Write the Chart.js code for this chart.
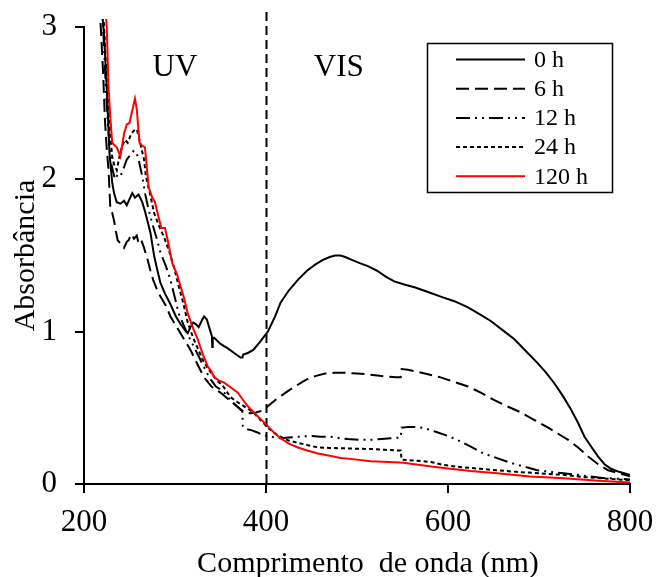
<!DOCTYPE html>
<html><head><meta charset="utf-8">
<script src="https://cdn.jsdelivr.net/npm/chart.js@4/dist/chart.umd.min.js"></script>
<style>html,body{margin:0;padding:0;background:#fff}#wrap{width:659px;height:577px}</style>
</head><body><div id="wrap"><canvas id="c" width="659" height="577"></canvas></div>
<script>
// ---- data (wavelength nm / absorbance) ----
const seriesLabels = ['0 h', '6 h', '12 h', '24 h', '120 h'];
const xTicks = [200, 400, 600, 800];
const yTicks = [0, 1, 2, 3];
const xTitle = 'Comprimento  de onda (nm)';
const yTitle = 'Absorbância';

const wl0 = [
217, 222, 225, 228, 231, 233, 236, 240, 244, 247,
250, 253, 256, 260, 264, 267, 270, 273, 277, 280,
284, 289, 295, 301, 306, 311, 314, 317, 320, 323,
326, 330, 332, 335, 338, 340.5, 341, 341.5, 343, 350,
358, 365, 372, 374, 375, 380, 386, 393, 402, 410,
416, 425, 435, 445, 454, 462, 470, 476, 482, 487,
495, 503, 512, 522, 532, 541, 552, 564, 578, 592,
607, 622, 636, 647, 660, 673, 686, 699, 708, 717,
726, 735, 743, 750, 758, 765, 772, 779, 788, 800];
const ab0 = [
3.3, 2.95, 2.6, 2.17, 1.98, 1.91, 1.85, 1.84, 1.86, 1.83,
1.87, 1.91, 1.88, 1.90, 1.85, 1.79, 1.72, 1.65, 1.50, 1.42,
1.32, 1.25, 1.18, 1.10, 1.05, 1.01, 0.99, 1.03, 1.06, 1.05,
1.03, 1.08, 1.10, 1.08, 1.02, 0.97, 0.90, 0.96, 0.96, 0.92,
0.89, 0.86, 0.83, 0.83, 0.85, 0.86, 0.88, 0.93, 1.00, 1.10,
1.19, 1.27, 1.34, 1.40, 1.44, 1.47, 1.49, 1.50, 1.50, 1.49,
1.47, 1.45, 1.43, 1.40, 1.36, 1.33, 1.31, 1.29, 1.26, 1.23,
1.20, 1.16, 1.11, 1.07, 1.01, 0.95, 0.87, 0.79, 0.73, 0.66,
0.58, 0.49, 0.40, 0.31, 0.24, 0.18, 0.13, 0.10, 0.08, 0.06];

const wl6 = [
215, 218, 221, 223, 225, 227, 229, 231, 233, 235,
237, 240, 244, 247, 249, 252, 255, 258, 260, 263,
266, 270, 273, 276, 280, 284, 290, 295, 300, 306,
312, 317, 321, 326, 332, 336, 340, 345, 350, 356,
362, 368, 372, 377, 383, 389, 395, 402, 410, 417,
424, 432, 440, 446, 455, 465, 475, 487, 500, 512,
525, 535, 543, 548, 549, 556, 564, 578, 592, 607,
622, 636, 651, 665, 680, 695, 710, 721, 732, 743,
754, 765, 776, 788, 800];
const ab6 = [
3.4, 3.05, 2.7, 2.39, 2.2, 2.06, 1.80, 1.78, 1.73, 1.66,
1.60, 1.58, 1.55, 1.59, 1.60, 1.64, 1.61, 1.63, 1.58, 1.60,
1.55, 1.47, 1.40, 1.34, 1.28, 1.23, 1.17, 1.10, 1.05, 0.99,
0.93, 0.88, 0.83, 0.77, 0.70, 0.67, 0.64, 0.62, 0.60, 0.57,
0.54, 0.51, 0.49, 0.47, 0.465, 0.47, 0.48, 0.51, 0.55, 0.58,
0.61, 0.64, 0.67, 0.69, 0.71, 0.725, 0.73, 0.73, 0.725, 0.72,
0.71, 0.705, 0.70, 0.70, 0.755, 0.75, 0.74, 0.72, 0.70, 0.67,
0.64, 0.60, 0.55, 0.51, 0.47, 0.42, 0.37, 0.33, 0.29, 0.24,
0.18, 0.13, 0.09, 0.07, 0.05];

const wl12 = [
218, 221, 224, 227, 230, 234, 237, 240, 244, 247,
251, 255, 258, 260, 264, 267, 271, 276, 280, 284,
290, 295, 300, 304, 309, 314, 320, 325, 330, 336,
340, 345, 350, 354, 361, 368, 374, 374.5, 378, 383,
390, 397, 406, 416, 425, 435, 449, 460, 471, 482,
490, 502, 515, 527, 537, 548, 549, 557, 566, 575,
588, 600, 610, 625, 639, 654, 668, 683, 698, 712,
727, 742, 756, 770, 785, 800];
const ab12 = [
3.4, 3.0, 2.6, 2.3, 2.1, 2.0, 2.03, 2.02, 2.08, 2.13,
2.16, 2.19, 2.17, 2.13, 2.02, 1.91, 1.80, 1.69, 1.61, 1.52,
1.43, 1.34, 1.22, 1.12, 1.05, 0.98, 0.91, 0.85, 0.79, 0.72,
0.68, 0.64, 0.62, 0.60, 0.55, 0.51, 0.48, 0.38, 0.36, 0.355,
0.34, 0.32, 0.31, 0.30, 0.305, 0.31, 0.315, 0.31, 0.31, 0.30,
0.295, 0.29, 0.29, 0.295, 0.30, 0.305, 0.37, 0.375, 0.375, 0.365,
0.34, 0.315, 0.29, 0.245, 0.20, 0.17, 0.14, 0.115, 0.09, 0.08,
0.07, 0.06, 0.05, 0.04, 0.035, 0.03];

const wl24 = [
219, 222, 225, 228, 231, 233, 236, 239, 242, 245,
248, 252, 255, 258, 261, 264, 266, 268, 272, 277,
282, 288, 294, 299, 304, 309, 314, 320, 325, 330,
336, 341, 346, 352, 361, 368, 376, 386, 394, 402,
409, 416, 425, 435, 446, 457, 470, 482, 496, 515,
530, 544, 548, 549, 560, 581, 595, 615, 635, 654,
675, 700, 727, 750, 775, 800];
const ab24 = [
3.4, 3.0, 2.65, 2.35, 2.15, 2.10, 2.06, 2.15, 2.22, 2.26,
2.24, 2.30, 2.32, 2.33, 2.26, 2.18, 2.13, 2.02, 1.92, 1.78,
1.70, 1.62, 1.52, 1.42, 1.30, 1.19, 1.06, 0.96, 0.89, 0.82,
0.76, 0.72, 0.68, 0.65, 0.57, 0.54, 0.51, 0.47, 0.42, 0.37,
0.335, 0.31, 0.285, 0.27, 0.255, 0.24, 0.237, 0.235, 0.232, 0.23,
0.225, 0.22, 0.22, 0.16, 0.155, 0.145, 0.125, 0.11, 0.10, 0.09,
0.08, 0.07, 0.06, 0.045, 0.035, 0.025];

const wl120 = [
219, 222, 225, 227, 229, 231, 234, 236, 240, 244,
247, 250, 253, 256, 258, 261, 264, 267, 271, 275,
278, 282, 285, 289, 292, 297, 302, 306, 310, 314,
320, 325, 330, 336, 340, 343, 348, 354, 362, 369,
375, 380, 390, 402, 410, 416, 425, 435, 445, 457,
470, 482, 500, 515, 535, 551, 575, 595, 625, 654,
690, 727, 765, 800];
const ab120 = [
3.6, 3.25, 3.0, 2.6, 2.4, 2.24, 2.22, 2.21, 2.15, 2.30,
2.36, 2.37, 2.45, 2.53, 2.46, 2.24, 2.22, 2.21, 1.95, 1.88,
1.85, 1.75, 1.68, 1.68, 1.60, 1.45, 1.38, 1.30, 1.22, 1.12,
1.02, 0.95, 0.86, 0.77, 0.74, 0.70, 0.68, 0.665, 0.63, 0.60,
0.55, 0.51, 0.45, 0.38, 0.33, 0.30, 0.265, 0.24, 0.22, 0.20,
0.185, 0.17, 0.16, 0.15, 0.145, 0.14, 0.12, 0.105, 0.085, 0.07,
0.05, 0.038, 0.022, 0.01];

// ---- chart ----
const FONT = "'Liberation Serif', 'Times New Roman', Times, serif";
const pts = (xs, ys) => xs.map((x, i) => ({x: x, y: ys[i]}));
const styles = [
  {color: '#000000', dash: []},
  {color: '#000000', dash: [13, 6]},
  {color: '#000000', dash: [14, 5, 2, 5, 2, 5]},
  {color: '#000000', dash: [4, 3]},
  {color: '#ff0000', dash: []}
];
const allData = [pts(wl0, ab0), pts(wl6, ab6), pts(wl12, ab12), pts(wl24, ab24), pts(wl120, ab120)];
const datasets = allData.map((d, i) => ({
  label: seriesLabels[i],
  data: d,
  borderColor: styles[i].color,
  borderDash: styles[i].dash,
  borderWidth: 2,
  pointRadius: 0,
  fill: false,
  tension: 0,
  clip: {left: 0, top: 8, right: 2, bottom: 2}
}));
datasets.forEach((d, i) => d.order = 5 - i);

const annot = {
  id: 'annot',
  beforeDatasetsDraw(chart) {
    const ctx = chart.ctx, xs = chart.scales.x, ca = chart.chartArea;
    const px = Math.round(xs.getPixelForValue(400)) + 0.5;
    ctx.save();
    ctx.strokeStyle = '#000'; ctx.lineWidth = 2; ctx.setLineDash([9, 5]);
    ctx.beginPath(); ctx.moveTo(px, ca.top - 15); ctx.lineTo(px, ca.bottom); ctx.stroke();
    ctx.restore();
  },
  afterDatasetsDraw(chart) {
    const ctx = chart.ctx, xs = chart.scales.x, ys = chart.scales.y;
    ctx.save();
    ctx.fillStyle = '#000';
    ctx.font = '31px ' + FONT;
    ctx.textAlign = 'center'; ctx.textBaseline = 'middle';
    ctx.fillText('UV', xs.getPixelForValue(300), ys.getPixelForValue(2.73));
    ctx.fillText('VIS', xs.getPixelForValue(480), ys.getPixelForValue(2.73));
    // x axis title
    ctx.font = '30px ' + FONT; ctx.textBaseline = 'alphabetic';
    ctx.fillText(xTitle, xs.getPixelForValue(512), 572);
    // legend
    const bx = 427.5, by = 43.5, bw = 185, bh = 149;
    ctx.fillStyle = '#fff'; ctx.fillRect(bx, by, bw, bh);
    ctx.strokeStyle = '#000'; ctx.lineWidth = 1.5; ctx.setLineDash([]);
    ctx.strokeRect(bx, by, bw, bh);
    chart.data.datasets.forEach((ds, i) => {
      const y = 59.5 + i * 29.2;
      ctx.strokeStyle = ds.borderColor; ctx.lineWidth = 2; ctx.setLineDash(ds.borderDash);
      ctx.beginPath(); ctx.moveTo(456, y); ctx.lineTo(525, y); ctx.stroke();
      ctx.setLineDash([]);
      ctx.fillStyle = '#000'; ctx.font = '24px ' + FONT;
      ctx.textAlign = 'left'; ctx.textBaseline = 'middle';
      ctx.fillText(ds.label, 534, y + 1);
    });
    ctx.restore();
  }
};

new Chart(document.getElementById('c').getContext('2d'), {
  type: 'line',
  data: {datasets: datasets},
  options: {
    responsive: false, animation: false, devicePixelRatio: 1,
    layout: {padding: {left: 0, right: 29, top: 27, bottom: 0}},
    plugins: {legend: {display: false}, tooltip: {enabled: false}},
    scales: {
      x: {
        type: 'linear', min: 200, max: 800,
        afterBuildTicks(s) { s.ticks = xTicks.map(v => ({value: v})); },
        ticks: {font: {family: FONT, size: 31}, color: '#000', padding: 11, maxRotation: 0, autoSkip: false},
        grid: {display: true, drawOnChartArea: false, drawTicks: true, tickLength: 9, color: '#000', lineWidth: 2},
        border: {display: true, color: '#000', width: 2},
        title: {display: false},
        afterFit(s) { s.height = 93; s.paddingLeft = 0; s.paddingRight = 0; }
      },
      y: {
        type: 'linear', min: 0, max: 3,
        afterBuildTicks(s) { s.ticks = yTicks.map(v => ({value: v})); },
        ticks: {font: {family: FONT, size: 31}, color: '#000', padding: 18, autoSkip: false},
        grid: {display: true, drawOnChartArea: false, drawTicks: true, tickLength: 9, color: '#000', lineWidth: 2},
        border: {display: true, color: '#000', width: 2},
        title: {display: true, text: yTitle, font: {family: FONT, size: 30}, color: '#000', padding: {top: 8, bottom: 0}},
        afterFit(s) { s.width = 84; s.paddingTop = 0; s.paddingBottom = 0; }
      }
    }
  },
  plugins: [annot]
});
</script></body></html>
